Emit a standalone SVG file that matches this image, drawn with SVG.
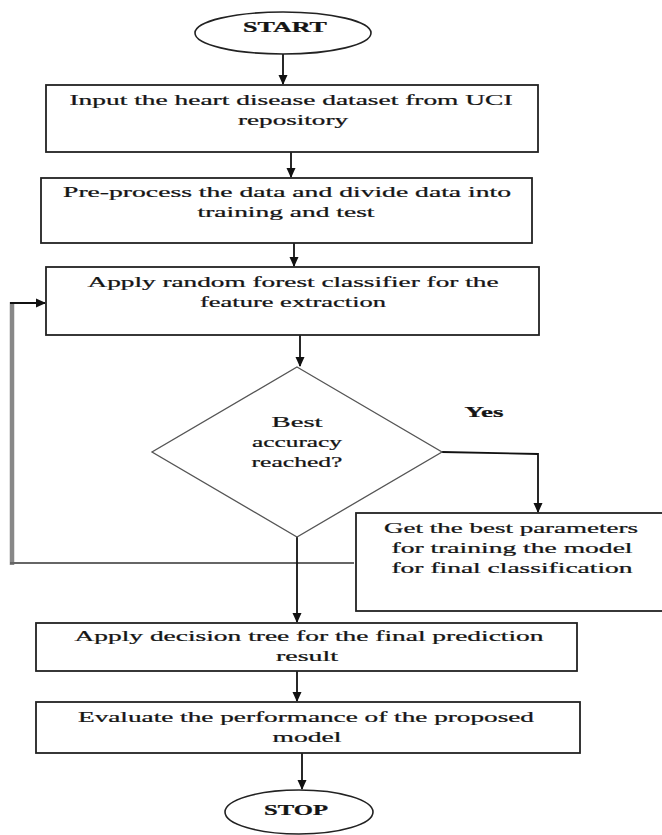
<svg xmlns="http://www.w3.org/2000/svg" width="662" height="835" viewBox="0 0 662 835">
<style>
.box{fill:#fff;stroke:#222;stroke-width:1.8}
.term{fill:#fff;stroke:#222;stroke-width:1.6}
.dia{fill:#fff;stroke:#555;stroke-width:1.3}
.t{font-family:"Liberation Serif","Times New Roman",serif;font-size:15px;fill:#151515;stroke:#151515;stroke-width:0.25;text-anchor:middle}
.b{font-weight:bold}
.c{fill:none;stroke:#111;stroke-width:1.8}
.g{fill:none;stroke:#666;stroke-width:2}
.gv{fill:none;stroke:#888;stroke-width:4.5}
</style>
<defs>
<marker id="ah" markerWidth="10" markerHeight="10" refX="9" refY="5" orient="auto" markerUnits="userSpaceOnUse">
<path d="M0,0.5 L10,5 L0,9.5 Z" fill="#111"/>
</marker>
</defs>
<rect width="662" height="835" fill="#fff"/>
<g id="connectors">
<line class="c" x1="283" y1="54" x2="283" y2="84" marker-end="url(#ah)"/>
<line class="c" x1="291" y1="152" x2="291" y2="177" marker-end="url(#ah)"/>
<line class="c" x1="294" y1="243" x2="294" y2="266" marker-end="url(#ah)"/>
<line class="c" x1="300" y1="335" x2="300" y2="366" marker-end="url(#ah)"/>
<polyline class="c" points="442,452 538,454 538,512" marker-end="url(#ah)"/>
<line class="gv" x1="12" y1="565" x2="12" y2="302"/>
<line class="g" x1="354" y1="563" x2="10" y2="563"/>
<polyline class="c" points="10,303 45,303" marker-end="url(#ah)"/>
<line class="c" x1="297" y1="537" x2="297" y2="622" marker-end="url(#ah)"/>
<line class="c" x1="297" y1="671" x2="297" y2="701" marker-end="url(#ah)"/>
<line class="c" x1="302" y1="753" x2="302" y2="789" marker-end="url(#ah)"/>
</g>
<g id="start">
<ellipse class="term" cx="283" cy="33" rx="88" ry="21"/>
<text class="t b" transform="translate(285,32) scale(1.7,1)" textLength="49.4" lengthAdjust="spacingAndGlyphs">START</text>
</g>
<g id="input">
<rect class="box" x="46" y="85" width="492" height="67"/>
<text class="t" transform="translate(291,105) scale(1.7,1)" textLength="260.6" lengthAdjust="spacingAndGlyphs">Input the heart disease dataset from UCI</text>
<text class="t" transform="translate(293,125) scale(1.7,1)" textLength="64.7" lengthAdjust="spacingAndGlyphs">repository</text>
</g>
<g id="preprocess">
<rect class="box" x="41" y="178" width="491" height="65"/>
<text class="t" transform="translate(287,197) scale(1.7,1)" textLength="263.5" lengthAdjust="spacingAndGlyphs">Pre-process the data and divide data into</text>
<text class="t" transform="translate(286,217) scale(1.7,1)" textLength="104.1" lengthAdjust="spacingAndGlyphs">training and test</text>
</g>
<g id="randomforest">
<rect class="box" x="46" y="267" width="493" height="68"/>
<text class="t" transform="translate(293,287) scale(1.7,1)" textLength="241.8" lengthAdjust="spacingAndGlyphs">Apply random forest classifier for the</text>
<text class="t" transform="translate(293,307) scale(1.7,1)" textLength="109.4" lengthAdjust="spacingAndGlyphs">feature extraction</text>
</g>
<g id="decision">
<polygon class="dia" points="297,367 442,452 297,537 152,452"/>
<text class="t" transform="translate(297,427) scale(1.7,1)" textLength="30" lengthAdjust="spacingAndGlyphs">Best</text>
<text class="t" transform="translate(297,447) scale(1.7,1)" textLength="52.9" lengthAdjust="spacingAndGlyphs">accuracy</text>
<text class="t" transform="translate(297,467) scale(1.7,1)" textLength="53.5" lengthAdjust="spacingAndGlyphs">reached?</text>
</g>
<g id="yes-label">
<text class="t b" transform="translate(484,417) scale(1.7,1)" textLength="22.9" lengthAdjust="spacingAndGlyphs">Yes</text>
</g>
<g id="bestparams">
<rect class="box" x="356" y="513" width="320" height="98"/>
<text class="t" transform="translate(511,533) scale(1.7,1)" textLength="149.4" lengthAdjust="spacingAndGlyphs">Get the best parameters</text>
<text class="t" transform="translate(512,553) scale(1.7,1)" textLength="141.8" lengthAdjust="spacingAndGlyphs">for training the model</text>
<text class="t" transform="translate(512,573) scale(1.7,1)" textLength="141.8" lengthAdjust="spacingAndGlyphs">for final classification</text>
</g>
<g id="decisiontree">
<rect class="box" x="36" y="623" width="541" height="48"/>
<text class="t" transform="translate(309,641) scale(1.7,1)" textLength="275.9" lengthAdjust="spacingAndGlyphs">Apply decision tree for the final prediction</text>
<text class="t" transform="translate(307,661) scale(1.7,1)" textLength="36.5" lengthAdjust="spacingAndGlyphs">result</text>
</g>
<g id="evaluate">
<rect class="box" x="36" y="702" width="544" height="51"/>
<text class="t" transform="translate(306,722) scale(1.7,1)" textLength="268.2" lengthAdjust="spacingAndGlyphs">Evaluate the performance of the proposed</text>
<text class="t" transform="translate(307,742) scale(1.7,1)" textLength="40.6" lengthAdjust="spacingAndGlyphs">model</text>
</g>
<g id="stop">
<ellipse class="term" cx="299" cy="812" rx="74" ry="22"/>
<text class="t b" transform="translate(296,815) scale(1.7,1)" textLength="37.6" lengthAdjust="spacingAndGlyphs">STOP</text>
</g>
</svg>
